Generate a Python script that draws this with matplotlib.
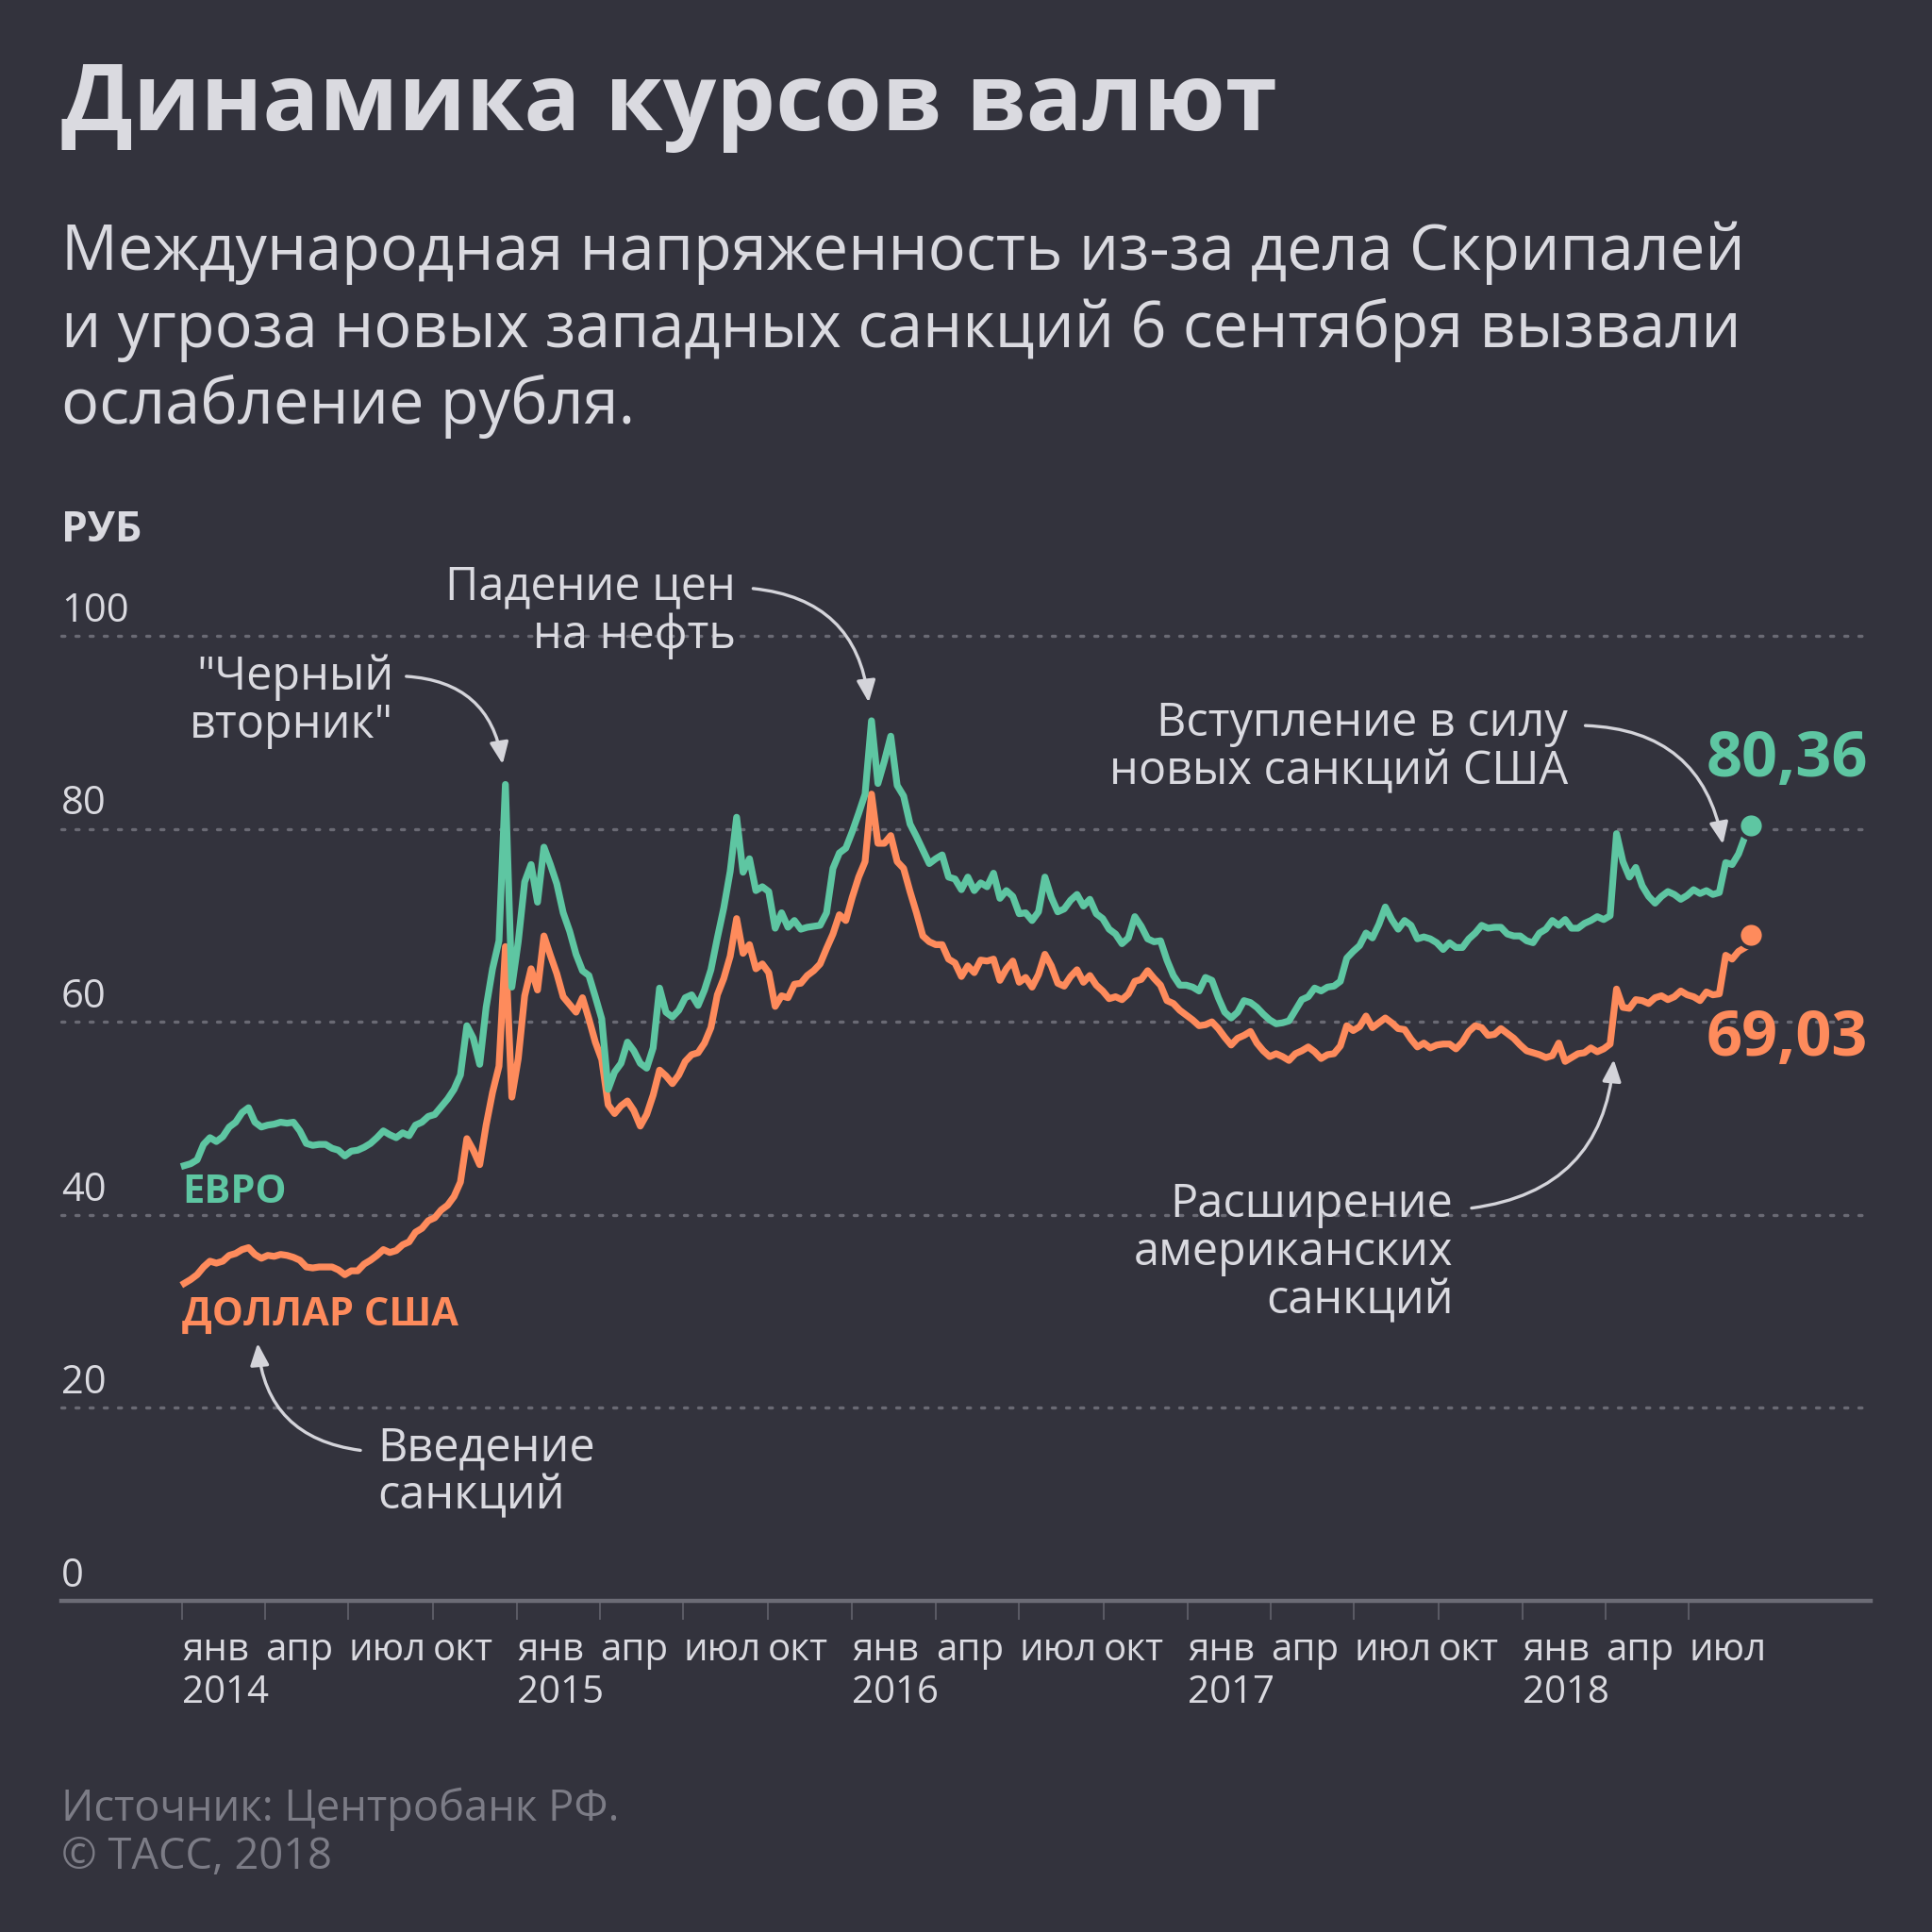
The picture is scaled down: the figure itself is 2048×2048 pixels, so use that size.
import matplotlib
matplotlib.use('Agg')
import matplotlib.pyplot as plt
import numpy as np
import pandas as pd

plt.rcParams['font.family'] = ['Open Sans', 'DejaVu Sans']

# weekly rates (Fridays), Jan 2014 .. Aug 2018
usd = [
    # 2014
    32.9, 33.3, 33.8, 34.6, 35.2,  35.0, 35.2, 35.8, 36.0,  36.4, 36.6, 35.9, 35.5,
    35.8, 35.7, 35.9, 35.8,  35.6, 35.3, 34.6, 34.5, 34.6,  34.6, 34.6, 34.3, 33.8,
    34.2, 34.2, 34.9, 35.3,  35.8, 36.4, 36.1, 36.3, 36.9,  37.2, 38.2, 38.6, 39.4,
    39.7, 40.5, 41.0, 41.9, 43.4,  47.9, 46.7, 45.2, 49.3,  52.7, 55.4, 67.8, 52.2,
    # 2015
    56.2, 62.7, 65.5, 63.3, 68.9,  66.9, 65.0, 62.6, 61.8,  61.0, 62.5, 60.3, 57.9,
    56.1, 51.4, 50.5, 51.3,  51.8, 50.8, 49.2, 50.4, 52.4,  55.0, 54.4, 53.6, 54.5,
    55.9, 56.6, 56.8, 57.8, 59.4,  62.8, 64.5, 66.8, 70.7,  67.1, 68.0, 65.5, 66.0,
    65.1, 61.6, 62.7, 62.5, 63.9,  64.0, 64.8, 65.3, 66.0,  67.6, 69.1, 71.1, 70.5,
    # 2016
    72.9, 75.0, 76.6, 83.6, 78.5,  78.5, 79.3, 76.6, 75.9,  73.5, 71.3, 68.9, 68.3,
    68.0, 68.0, 66.5, 66.1, 64.7,  65.8, 65.1, 66.4, 66.3,  66.5, 64.3, 65.5, 66.3,
    64.1, 64.6, 63.6, 64.9, 67.0,  65.8, 64.0, 63.7, 64.7,  65.4, 64.1, 64.8, 63.8, 63.2,
    62.4, 62.6, 62.3, 62.9,  64.2, 64.4, 65.3, 64.5,  63.8, 62.2, 61.9, 61.2, 60.7,
    # 2017
    60.2, 59.6, 59.7, 60.0,  59.3, 58.4, 57.6, 58.3,  58.6, 59.0, 57.8, 57.0, 56.4,
    56.7, 56.4, 56.0, 56.7,  57.0, 57.4, 56.9, 56.2,  56.6, 56.7, 57.5, 59.6, 59.1,
    59.5, 60.6, 59.4, 59.9,  60.4, 59.9, 59.3, 59.2,  58.2, 57.4, 57.8, 57.3, 57.6,
    57.7, 57.7, 57.2, 57.9,  59.0, 59.6, 59.4, 58.6,  58.7, 59.3, 58.8, 58.3, 57.6,
    # 2018
    57.0, 56.8, 56.6, 56.3,  56.5, 57.8, 55.9, 56.3,  56.7, 56.8, 57.3, 56.9, 57.2,
    57.7, 63.4, 61.5, 61.4,  62.3, 62.2, 61.9, 62.5,  62.7, 62.3, 62.6, 63.2, 62.8,
    62.6, 62.2, 63.1, 62.8,  62.9, 66.9, 66.5, 67.3, 67.7,
]

eur = [
    # 2014
    45.1, 45.3, 45.7, 47.3, 48.0,  47.6, 48.1, 49.1, 49.6,  50.6, 51.1, 49.6, 49.1,
    49.3, 49.4, 49.6, 49.5,  49.6, 48.7, 47.4, 47.2, 47.3,  47.3, 46.9, 46.7, 46.1,
    46.6, 46.7, 47.0, 47.4,  48.0, 48.7, 48.3, 48.0, 48.5,  48.2, 49.3, 49.6, 50.2,
    50.4, 51.2, 52.0, 53.0, 54.5,  59.6, 58.3, 55.6, 61.5,  65.5, 68.4, 84.6, 63.6,
    # 2015
    68.3, 74.5, 76.3, 72.4, 78.1,  76.3, 74.3, 71.3, 69.4,  67.0, 65.3, 64.8, 62.6,
    60.3, 53.0, 54.8, 55.7,  57.9, 57.0, 55.7, 55.2, 57.3,  63.5, 61.0, 60.5, 61.2,
    62.5, 62.8, 61.7, 63.3, 65.4,  68.7, 71.8, 75.6, 81.2,  75.5, 76.9, 73.6, 74.0,
    73.5, 69.7, 71.3, 69.8, 70.5,  69.6, 69.8, 69.9, 70.0,  71.3, 75.9, 77.5, 78.0,
    # 2016
    79.7, 81.6, 83.6, 91.2, 84.7,  87.0, 89.6, 84.5, 83.4,  80.5, 79.2, 77.8, 76.4,
    76.9, 77.3, 75.0, 74.8, 73.7,  75.0, 73.6, 74.4, 74.0,  75.4, 72.8, 73.6, 73.0,
    71.2, 71.3, 70.5, 71.4, 75.0,  72.9, 71.4, 71.7, 72.6,  73.2, 72.0, 72.7, 71.2, 70.7,
    69.6, 69.1, 68.1, 68.7,  70.9, 69.9, 68.6, 68.3,  68.4, 66.4, 64.8, 63.8, 63.8,
    # 2017
    63.6, 63.2, 64.6, 64.3,  62.5, 61.0, 60.4, 61.0,  62.2, 62.0, 61.5, 60.8, 60.2,
    59.8, 59.9, 60.1, 61.2,  62.3, 62.6, 63.5, 63.2,  63.6, 63.7, 64.2, 66.6, 67.3,
    67.9, 69.2, 68.7, 70.1,  71.9, 70.6, 69.6, 70.5,  70.0, 68.6, 68.8, 68.6, 68.2,
    67.5, 68.2, 67.7, 67.7,  68.6, 69.2, 70.0, 69.7,  69.8, 69.8, 69.1, 68.9, 68.9,
    # 2018
    68.4, 68.2, 69.2, 69.6,  70.5, 70.0, 70.6, 69.7,  69.7, 70.2, 70.5, 70.9, 70.6,
    71.0, 79.5, 76.6, 75.0,  76.0, 74.1, 73.0, 72.3,  73.0, 73.5, 73.2, 72.7, 73.1,
    73.7, 73.3, 73.6, 73.2,  73.4, 76.5, 76.3, 77.4, 79.2,
]

last_date = '2018-09-06'
last_eur = 80.36
last_usd = 69.03

months = ['янв', 'апр', 'июл', 'окт']
years = ['2014', '2015', '2016', '2017', '2018']
yticks = [0, 20, 40, 60, 80, 100]

BG = '#33333d'
GREEN = '#5ec6a2'
ORANGE = '#fe8b5c'
TEXT = '#dadae0'
GRID = '#6a6a74'
FOOT = '#7c7c86'
ARROW = '#d4d4da'

dates = pd.date_range('2014-01-03', periods=len(usd), freq='W-FRI')

fig = plt.figure(figsize=(10.24, 10.24), dpi=200, facecolor=BG)
H = 2048.0
ax = fig.add_axes([65 / H, 1 - 1697 / H, (1983 - 65) / H, (1697 - 674) / H])
ax.set_facecolor(BG)

# header
fig.text(65 / H, 1 - 112 / H, 'Динамика курсов валют', fontsize=35.8, fontweight='bold',
         color=TEXT, va='center', ha='left')
sub = ('Международная напряженность из-за дела Скрипалей\n'
       'и угроза новых западных санкций 6 сентября вызвали\n'
       'ослабление рубля.')
fig.text(65 / H, 1 - 350 / H, sub, fontsize=24, color=TEXT, va='center', ha='left',
         linespacing=1.26)
fig.text(65 / H, 1 - 563 / H, 'РУБ', fontsize=16, fontweight='bold', color=TEXT,
         va='center', ha='left')

# grid and y labels
for v in yticks[1:]:
    ax.axhline(v, color=GRID, lw=1.2, ls=(0, (1, 3.5)), dash_capstyle='round',
               clip_on=False, zorder=1)
for v in yticks:
    ax.annotate(str(v), xy=(0, v), xycoords=('axes fraction', 'data'),
                xytext=(0, 5.5), textcoords='offset points', fontsize=15,
                color=TEXT, ha='left', va='baseline')

ax.plot(dates, usd, color=ORANGE, lw=2.6, solid_joinstyle='round', zorder=3)
ax.plot(dates, eur, color=GREEN, lw=2.6, solid_joinstyle='round', zorder=4)
ax.plot(pd.Timestamp(last_date), last_eur, 'o', ms=9.5, color=GREEN, mec=BG, mew=1.5,
        zorder=5, clip_on=False)
ax.plot(pd.Timestamp(last_date), last_usd, 'o', ms=9.5, color=ORANGE, mec=BG, mew=1.5,
        zorder=5, clip_on=False)

ax.set_ylim(0, 100)
ax.set_xlim(pd.Timestamp('2013-08-22'), pd.Timestamp('2019-01-15'))

# x axis
ticks = pd.date_range('2014-01-01', '2018-07-01', freq='QS')
labels = []
for i, t in enumerate(ticks):
    m = months[i % 4]
    labels.append(m + '\n' + years[i // 4] if i % 4 == 0 else m)
ax.set_xticks(ticks, labels)
for lbl in ax.get_xticklabels():
    lbl.set_horizontalalignment('left')
    lbl.set_linespacing(1.15)
ax.tick_params(axis='x', length=7.2, width=0.7, color='#5c5c66', pad=4.5,
               labelsize=14.5, labelcolor=TEXT)
ax.set_yticks([])
for s in ['top', 'left', 'right']:
    ax.spines[s].set_visible(False)
ax.spines['bottom'].set_color('#6c6c76')
ax.spines['bottom'].set_linewidth(1.6)

# series labels
ax.text(pd.Timestamp('2014-01-01'), 42.3, 'ЕВРО', fontsize=15, fontweight='bold',
        color=GREEN, ha='left', va='center')
ax.text(pd.Timestamp('2014-01-01'), 29.6, 'ДОЛЛАР США', fontsize=15, fontweight='bold',
        color=ORANGE, ha='left', va='center')
ax.text(pd.Timestamp('2019-01-12'), 87.1, '80,36', fontsize=24, fontweight='bold',
        color=GREEN, ha='right', va='center', clip_on=False)
ax.text(pd.Timestamp('2019-01-12'), 58.2, '69,03', fontsize=24, fontweight='bold',
        color=ORANGE, ha='right', va='center', clip_on=False)


def note(text, pos, ha, start, end, rad):
    ax.text(pd.Timestamp(pos[0]), pos[1], text, fontsize=17.5, color=TEXT, ha=ha,
            va='center', linespacing=1.05, multialignment=ha, clip_on=False)
    ax.annotate('', xy=(pd.Timestamp(end[0]), end[1]),
                xytext=(pd.Timestamp(start[0]), start[1]),
                arrowprops=dict(arrowstyle='-|>,head_length=0.7,head_width=0.3',
                                connectionstyle='arc3,rad=%s' % rad, color=ARROW,
                                lw=1.2, shrinkA=0, shrinkB=0),
                annotation_clip=False)


note('"Черный\nвторник"', ('2014-08-19', 93.2), 'right',
     ('2014-09-02', 95.8), ('2014-12-16', 86.7), -0.4)
note('Падение цен\nна нефть', ('2015-08-27', 102.5), 'right',
     ('2015-09-15', 104.9), ('2016-01-19', 93.1), -0.4)
note('Вступление в силу\nновых санкций США', ('2018-02-19', 88.4), 'right',
     ('2018-03-10', 90.7), ('2018-08-07', 78.4), -0.4)
note('Расширение\nамериканских\nсанкций', ('2017-10-17', 36.0), 'right',
     ('2017-11-06', 40.7), ('2018-04-10', 56.1), 0.4)
note('Введение\nсанкций', ('2014-08-02', 13.3), 'left',
     ('2014-07-14', 15.6), ('2014-03-24', 26.7), -0.4)

# footer
fig.text(65 / H, 1 - 1943 / H, 'Источник: Центробанк РФ.\n© ТАСС, 2018', fontsize=16.3,
         color=FOOT, ha='left', va='center', linespacing=1.15)

fig.savefig('out.png', dpi=200, facecolor=BG)
